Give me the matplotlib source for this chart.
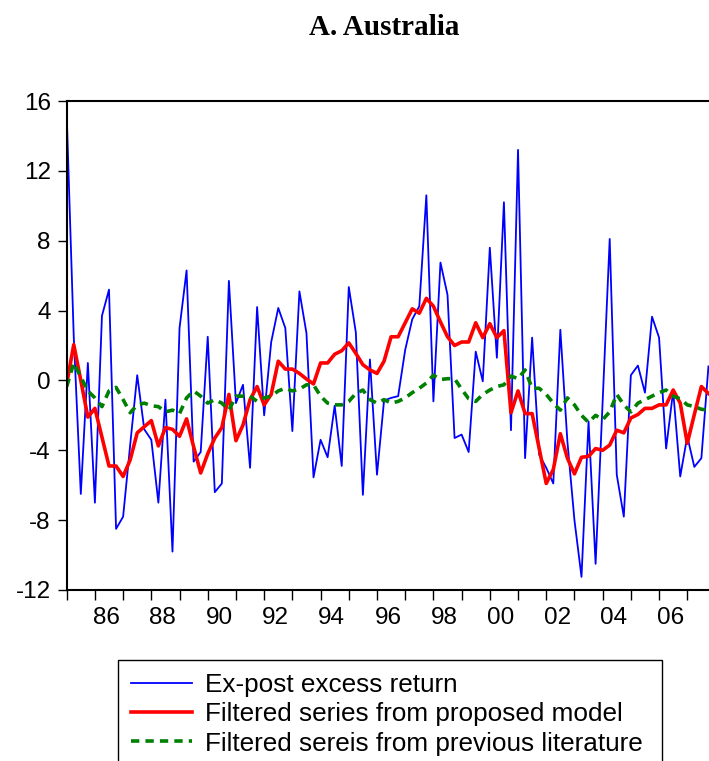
import numpy as np
import matplotlib
matplotlib.use("Agg")
import matplotlib.pyplot as plt

plt.rcParams['font.family'] = ['Liberation Sans', 'DejaVu Sans']
plt.rcParams['axes.unicode_minus'] = False

# quarterly data, 1985Q1 .. 2007Q4
start_year = 1985
excess_return = [
    15.2, 2.5, -6.5, 1.0, -7.0, 3.7, 5.2, -8.5, -7.8, -3.7, 0.3, -2.8,
    -3.4, -7.0, -1.1, -9.8, 3.0, 6.3, -4.65, -4.1, 2.5, -6.4, -5.9, 5.7,
    -1.3, -0.25, -5.0, 4.2, -2.0, 2.2, 4.15, 3.0, -2.9, 5.1, 2.7, -5.55,
    -3.4, -4.4, -1.45, -4.9, 5.35, 2.75, -6.55, 1.2, -5.4, -1.15, -1.0, -0.9,
    1.75, 3.5, 4.25, 10.6, -1.2, 6.75, 4.9, -3.3, -3.1, -4.1, 1.65, -0.05,
    7.6, 1.3, 10.2, -2.85, 13.2, -4.45, 2.45, -4.25, -5.0, -5.9, 2.9, -3.5,
    -8.0, -11.25, -2.35, -10.5, -1.2, 8.1, -5.4, -7.8, 0.3, 0.85, -0.7, 3.65,
    2.45, -3.9, -0.6, -5.5, -3.2, -4.95, -4.45, 0.8,
]
proposed = [
    -0.2, 2.05, 0.0, -2.1, -1.6, -3.25, -4.9, -4.9, -5.5, -4.55, -3.0, -2.65,
    -2.3, -3.75, -2.7, -2.8, -3.2, -2.2, -3.8, -5.3, -4.2, -3.3, -2.7, -0.8,
    -3.45, -2.55, -1.1, -0.35, -1.4, -0.8, 1.1, 0.65, 0.65, 0.4, 0.08, -0.2,
    1.0, 1.0, 1.5, 1.7, 2.15, 1.55, 0.9, 0.6, 0.4, 1.1, 2.5, 2.5,
    3.3, 4.1, 3.85, 4.7, 4.25, 3.35, 2.5, 2.0, 2.2, 2.2, 3.3, 2.45,
    3.25, 2.45, 2.85, -1.85, -0.6, -1.9, -1.9, -3.9, -5.9, -5.1, -3.05, -4.45,
    -5.35, -4.4, -4.35, -3.9, -4.0, -3.7, -2.85, -3.0, -2.15, -1.95, -1.6, -1.6,
    -1.4, -1.4, -0.55, -1.3, -3.6, -1.95, -0.35, -0.75,
]
previous = [
    -0.35, 1.0, 0.2, -0.6, -1.0, -1.5, -0.6, -0.4, -1.1, -1.85, -1.4, -1.3,
    -1.45, -1.5, -1.8, -1.7, -1.9, -1.0, -0.6, -0.9, -1.3, -1.1, -1.3, -1.7,
    -0.9, -0.9, -0.9, -1.2, -1.0, -0.9, -0.6, -0.45, -0.6, -0.5, -0.25, -0.25,
    -0.9, -1.3, -1.4, -1.4, -1.2, -0.75, -0.55, -1.1, -1.3, -1.1, -1.3, -1.2,
    -1.0, -0.7, -0.45, -0.15, 0.3, 0.05, 0.1, 0.1, -0.5, -1.05, -1.2, -0.8,
    -0.55, -0.35, -0.25, 0.25, 0.1, 0.6, -0.45, -0.45, -0.8, -1.3, -1.7, -1.0,
    -1.4, -2.0, -2.4, -2.0, -2.25, -1.8, -0.8, -1.4, -1.8, -1.3, -1.1, -0.9,
    -0.7, -0.55, -0.9, -1.05, -1.4, -1.5, -1.65, -1.7,
]
series_labels = ["Ex-post excess return",
                 "Filtered series from proposed model",
                 "Filtered sereis from previous literature"]
tick_years = list(range(1985, 2008))
label_years = list(range(1986, 2008, 2))
y_ticks = [-12, -8, -4, 0, 4, 8, 12, 16]

W, H = 709, 761
fig = plt.figure(figsize=(W / 100, H / 100), dpi=100)
q = 7.052  # pixels per quarter
ax = fig.add_axes([66.7 / W, (H - 590) / H, 92 * q / W, 489 / H])

x = np.arange(len(excess_return))
l1, = ax.plot(x, excess_return, color='#0000ff', lw=1.3)
l2, = ax.plot(x, proposed, color='#ff0000', lw=2.6)
l3, = ax.plot(x, previous, color='#008000', lw=2.6, ls=(0, (2.3, 1.7)))

ax.set_xlim(0, 92)
ax.set_ylim(-12, 16)

# year boundaries as ticks, labels between them
ax.set_xticks([(yr - start_year) * 4 for yr in tick_years])
ax.set_xticklabels([])
ax.set_xticks([(yr - start_year) * 4 + 1.6 for yr in label_years], minor=True)
ax.set_xticklabels(["%02d" % (yr % 100) for yr in label_years], minor=True,
                   fontsize=17.5)
ax.tick_params(axis='x', which='major', direction='out', length=7, width=1)
ax.tick_params(axis='x', which='minor', length=0, pad=12)

ax.set_yticks(y_ticks)
ax.set_yticklabels([str(v) for v in y_ticks], fontsize=17.5)
ax.tick_params(axis='y', direction='out', length=6.5, width=1, pad=5)

for s in ['left', 'bottom', 'top']:
    ax.spines[s].set_linewidth(1.5)
ax.spines['right'].set_visible(False)

fig.text(384 / W, 1 - 35 / H, "A. Australia", ha='center', va='baseline',
         fontsize=21, fontweight='bold', family='Liberation Serif')

leg = fig.legend([l1, l2, l3], series_labels, loc='upper left',
                 bbox_to_anchor=(118 / W, 1 - 660 / H - 0.01, (662 - 118) / W, 0.01),
                 mode='expand', borderaxespad=0, fontsize=18.8,
                 handlelength=2.35, handletextpad=0.5, borderpad=0.5,
                 labelspacing=0.2, fancybox=False, framealpha=1,
                 edgecolor='black')
leg.get_frame().set_linewidth(1.0)

fig.savefig("out.png", dpi=100)
